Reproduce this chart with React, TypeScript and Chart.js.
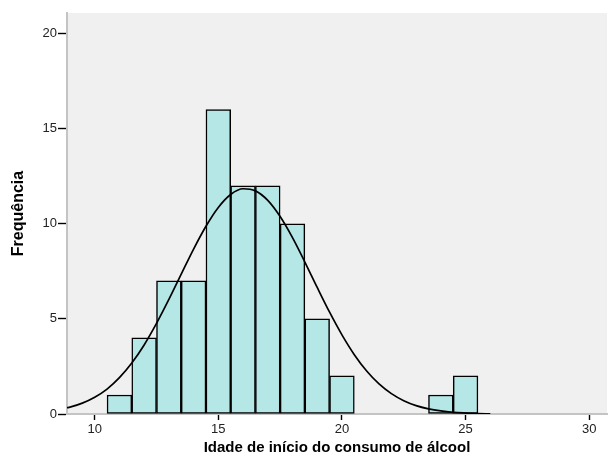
import React, { useEffect, useRef } from "react";
import { Chart, registerables } from "chart.js";

Chart.register(...registerables);

// Histogram bins (centres) and frequencies
const binCenters = [11, 12, 13, 14, 15, 16, 17, 18, 19, 20, 24, 25];
const frequencies = [1, 4, 7, 7, 16, 12, 12, 10, 5, 2, 1, 2];

// Normal curve points
const curveX = [8.88, 9, 9.5, 10, 10.5, 11, 11.5, 12, 12.5, 13, 13.5, 14, 14.5, 15, 15.5, 16, 16.5, 17, 17.5, 18, 18.5, 19, 19.5, 20, 20.5, 21, 21.5, 22, 22.5, 23, 23.5, 24, 24.5, 25, 25.5, 26];
const curveY = [0.33, 0.36, 0.57, 0.88, 1.31, 1.91, 2.68, 3.63, 4.76, 6.02, 7.35, 8.67, 9.87, 10.86, 11.54, 11.84, 11.73, 11.23, 10.38, 9.27, 7.99, 6.65, 5.35, 4.16, 3.12, 2.26, 1.58, 1.07, 0.7, 0.44, 0.27, 0.16, 0.09, 0.05, 0.02, 0.01];

const xTicks = [10, 15, 20, 25, 30];
const yTicks = [0, 5, 10, 15, 20];

const xTitle = "Idade de início do consumo de álcool";
const yTitle = "Frequência";

const FONT = "'Liberation Sans', Arial, sans-serif";

const bgPlugin = {
  id: "plotBg",
  beforeDraw(chart: any) {
    const { ctx, chartArea } = chart;
    if (!chartArea) return;
    ctx.save();
    ctx.fillStyle = "#f0f0f0";
    ctx.fillRect(chartArea.left, chartArea.top, chartArea.right - chartArea.left, chartArea.bottom - chartArea.top);
    ctx.restore();
  },
};

export default function App() {
  const ref = useRef<HTMLCanvasElement | null>(null);

  useEffect(() => {
    document.body.style.margin = "0";
    const canvas = ref.current;
    if (!canvas) return;
    const chart = new Chart(canvas, {
      type: "bar",
      data: {
        datasets: [
          {
            type: "line",
            data: curveX.map((x, i) => ({ x, y: curveY[i] })),
            borderColor: "#000000",
            borderWidth: 1.7,
            pointRadius: 0,
            fill: false,
            cubicInterpolationMode: "monotone",
            order: 0,
          } as any,
          {
            type: "bar",
            data: binCenters.map((x, i) => ({ x, y: frequencies[i] })),
            backgroundColor: "#b6e7e7",
            borderColor: "#000000",
            borderWidth: 1.5,
            borderSkipped: false,
            barPercentage: 1,
            categoryPercentage: 1,
            order: 1,
          } as any,
        ],
      },
      options: {
        responsive: false,
        animation: false,
        maintainAspectRatio: false,
        layout: { padding: { left: 0, right: 1, top: 13, bottom: 0 } },
        plugins: {
          legend: { display: false },
          tooltip: { enabled: false },
        },
        scales: {
          x: {
            type: "linear",
            min: 8.88,
            max: 30.72,
            offset: false,
            afterBuildTicks: (scale: any) => {
              scale.ticks = xTicks.map((v) => ({ value: v }));
            },
            afterFit: (scale: any) => {
              scale.height = 45;
            },
            grid: {
              drawOnChartArea: false,
              drawTicks: true,
              tickLength: 6,
              tickColor: "#000000",
              tickWidth: 1.4,
              offset: false,
            },
            border: { display: true, color: "#c4c4c4", width: 2 },
            ticks: {
              padding: 2,
              color: "#222222",
              font: { family: FONT, size: 13 },
              maxRotation: 0,
              callback: (v: any) => String(v),
            },
            title: {
              display: true,
              text: xTitle,
              color: "#000000",
              font: { family: FONT, size: 15, weight: "bold", lineHeight: 1.2 },
              padding: { top: 0, bottom: 2.5 },
            },
          },
          y: {
            type: "linear",
            min: 0,
            max: 21.08,
            afterBuildTicks: (scale: any) => {
              scale.ticks = yTicks.map((v) => ({ value: v }));
            },
            afterFit: (scale: any) => {
              scale.width = 67;
            },
            grid: {
              drawOnChartArea: false,
              drawTicks: true,
              tickLength: 9,
              tickColor: "#000000",
              tickWidth: 1.4,
            },
            border: { display: true, color: "#c4c4c4", width: 2 },
            ticks: {
              padding: 1,
              color: "#222222",
              font: { family: FONT, size: 13 },
              callback: (v: any) => String(v),
            },
            title: {
              display: true,
              text: yTitle,
              color: "#000000",
              font: { family: FONT, size: 16, weight: "bold", lineHeight: 1.2 },
              padding: { top: 9, bottom: 0 },
            },
          },
        },
      } as any,
      plugins: [bgPlugin],
    });
    return () => chart.destroy();
  }, []);

  return (
    <div style={{ width: 608, height: 459, background: "#ffffff" }}>
      <canvas ref={ref} width={608} height={459} style={{ display: "block" }} />
    </div>
  );
}
